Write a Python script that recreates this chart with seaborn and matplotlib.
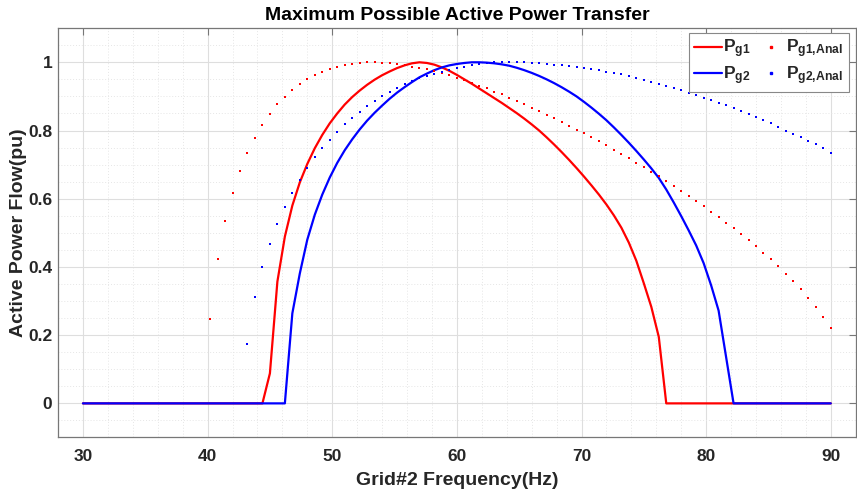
import numpy as np
import pandas as pd
import matplotlib
matplotlib.use("Agg")
import matplotlib.pyplot as plt
import seaborn as sns
from matplotlib.lines import Line2D
from matplotlib.ticker import MultipleLocator, FuncFormatter

# ---------------- data ----------------
# simulated curves sampled every 0.6 Hz from 30 to 90 Hz
freq_sim = np.round(np.arange(101) * 0.6 + 30.0, 1)
pg1_core = [0.088, 0.357, 0.489, 0.580, 0.648, 0.702, 0.748, 0.787, 0.821, 0.850,
            0.876, 0.898, 0.917, 0.934, 0.949, 0.962, 0.973, 0.983, 0.991, 0.997,
            1.000, 0.998, 0.993, 0.985, 0.975, 0.963, 0.950, 0.937, 0.923, 0.909,
            0.895, 0.881, 0.866, 0.851, 0.835, 0.818, 0.800, 0.780, 0.759, 0.737,
            0.714, 0.690, 0.665, 0.639, 0.612, 0.583, 0.551, 0.515, 0.471, 0.418,
            0.352, 0.283, 0.195]
pg1 = [0.0] * 25 + pg1_core + [0.0] * 23
pg2_core = [0.264, 0.381, 0.480, 0.553, 0.612, 0.662, 0.705, 0.742, 0.774, 0.803,
            0.829, 0.852, 0.873, 0.893, 0.911, 0.927, 0.942, 0.956, 0.967, 0.977,
            0.985, 0.991, 0.995, 0.998, 1.000, 1.000, 0.999, 0.997, 0.994, 0.990,
            0.984, 0.977, 0.969, 0.960, 0.950, 0.939, 0.927, 0.914, 0.900, 0.884,
            0.867, 0.849, 0.830, 0.809, 0.787, 0.764, 0.740, 0.715, 0.689, 0.661,
            0.627, 0.589, 0.549, 0.507, 0.463, 0.411, 0.346, 0.272, 0.136]
pg2 = [0.0] * 28 + pg2_core + [0.0] * 14

# analytical results (dots), 0.6 Hz spacing
freq_anal1 = np.round(np.arange(84) * 0.6 + 40.2, 1)
pg1_anal = [0.246, 0.424, 0.535, 0.616, 0.682, 0.735, 0.779, 0.817, 0.849, 0.877,
            0.899, 0.920, 0.936, 0.951, 0.963, 0.973, 0.980, 0.986, 0.992, 0.996,
            0.999, 1.000, 1.000, 0.999, 0.997, 0.994, 0.991, 0.987, 0.983, 0.979,
            0.975, 0.970, 0.963, 0.955, 0.948, 0.940, 0.931, 0.924, 0.914, 0.907,
            0.896, 0.887, 0.878, 0.867, 0.857, 0.845, 0.836, 0.824, 0.813, 0.801,
            0.792, 0.780, 0.769, 0.757, 0.743, 0.731, 0.718, 0.706, 0.694, 0.678,
            0.667, 0.653, 0.638, 0.623, 0.608, 0.593, 0.578, 0.561, 0.546, 0.530,
            0.513, 0.496, 0.479, 0.460, 0.441, 0.422, 0.402, 0.380, 0.358, 0.334,
            0.310, 0.283, 0.253, 0.220]
freq_anal2 = np.round(np.arange(79) * 0.6 + 43.2, 1)
pg2_anal = [0.174, 0.311, 0.399, 0.467, 0.525, 0.575, 0.618, 0.655, 0.689, 0.721,
            0.748, 0.773, 0.797, 0.818, 0.838, 0.855, 0.872, 0.886, 0.900, 0.913,
            0.925, 0.935, 0.944, 0.953, 0.960, 0.967, 0.973, 0.978, 0.983, 0.987,
            0.992, 0.995, 0.998, 1.000, 1.000, 1.000, 1.000, 1.000, 0.999, 0.998,
            0.996, 0.993, 0.991, 0.989, 0.987, 0.984, 0.980, 0.977, 0.973, 0.969,
            0.965, 0.960, 0.953, 0.948, 0.943, 0.937, 0.931, 0.925, 0.918, 0.911,
            0.904, 0.896, 0.889, 0.882, 0.874, 0.865, 0.856, 0.848, 0.839, 0.830,
            0.821, 0.810, 0.800, 0.790, 0.780, 0.769, 0.759, 0.748, 0.735]

labels = [r"$\mathbf{P_{g1}}$", r"$\mathbf{P_{g2}}$",
          r"$\mathbf{P_{g1{,}Anal}}$", r"$\mathbf{P_{g2{,}Anal}}$"]
title = "Maximum Possible Active Power Transfer"
xlabel = "Grid#2 Frequency(Hz)"
ylabel = "Active Power Flow(pu)"

# ---------------- styling ----------------
sns.set_theme(style="whitegrid")
plt.rcParams["font.family"] = ["Liberation Sans", "DejaVu Sans"]
plt.rcParams["font.weight"] = "bold"
plt.rcParams["mathtext.fontset"] = "custom"
plt.rcParams["mathtext.bf"] = "Liberation Sans:bold"
plt.rcParams["mathtext.rm"] = "Liberation Sans"
plt.rcParams["mathtext.it"] = "Liberation Sans:italic"

fig = plt.figure(figsize=(8.57, 4.91), dpi=100, facecolor="white")
ax = fig.add_axes([0.0677, 0.109, 0.9308, 0.8336])
ax.set_facecolor("white")

sim = pd.DataFrame({"f": freq_sim, "p1": pg1, "p2": pg2})
a1 = pd.DataFrame({"f": freq_anal1, "p": pg1_anal})
a2 = pd.DataFrame({"f": freq_anal2, "p": pg2_anal})

sns.lineplot(data=sim, x="f", y="p1", ax=ax, color="#ff0000", lw=1.6, zorder=3)
sns.lineplot(data=sim, x="f", y="p2", ax=ax, color="#0000ff", lw=1.6, zorder=3)
sns.scatterplot(data=a1, x="f", y="p", ax=ax, color="#ff0000", marker="s",
                s=3.5, linewidth=0, zorder=4)
sns.scatterplot(data=a2, x="f", y="p", ax=ax, color="#0000ff", marker="s",
                s=3.5, linewidth=0, zorder=4)

ax.set_xlim(28, 92)
ax.set_ylim(-0.1, 1.1)
ax.xaxis.set_major_locator(MultipleLocator(10))
ax.xaxis.set_minor_locator(MultipleLocator(2))
ax.yaxis.set_major_locator(MultipleLocator(0.2))
ax.yaxis.set_minor_locator(MultipleLocator(0.05))
ax.set_xticks(np.arange(30, 91, 10))
ax.set_yticks([0, 0.2, 0.4, 0.6, 0.8, 1.0])
ax.yaxis.set_major_formatter(FuncFormatter(lambda v, p: f"{v:g}"))

ax.grid(True, which="major", color="#dedede", lw=0.8, ls="-")
ax.grid(True, which="minor", color="#e6e6e6", lw=0.7, ls=(0, (1, 2)))
ax.set_axisbelow(True)

for s in ax.spines.values():
    s.set_visible(True)
    s.set_color("#777777")
    s.set_linewidth(0.9)

ax.tick_params(axis="both", which="major", direction="in", length=5, width=0.8,
               color="#777777", top=True, right=True, labelsize=12.5,
               labelcolor="#262626")
ax.tick_params(axis="x", which="major", pad=8)
ax.tick_params(axis="y", which="major", pad=4)
ax.tick_params(axis="both", which="minor", length=0)
for lab in ax.get_xticklabels() + ax.get_yticklabels():
    lab.set_fontweight("bold")

ax.set_title(title, fontsize=14, fontweight="bold", color="black", pad=6)
ax.set_xlabel(xlabel, fontsize=14, fontweight="bold", color="#262626", labelpad=6)
ax.set_ylabel(ylabel, fontsize=14, fontweight="bold", color="#262626", labelpad=1)

handles = [Line2D([], [], color="#ff0000", lw=1.6),
           Line2D([], [], color="#0000ff", lw=1.6),
           Line2D([], [], color="#ff0000", marker="s", ms=1.6, ls=""),
           Line2D([], [], color="#0000ff", marker="s", ms=1.6, ls="")]
leg = ax.legend(handles, labels, ncol=2, loc="upper right",
                bbox_to_anchor=(0.991, 0.989), borderaxespad=0,
                fontsize=12.5, handlelength=1.6, handletextpad=0.1,
                columnspacing=0.35, labelspacing=0.2, borderpad=0.3,
                fancybox=False, framealpha=1, edgecolor="#888888")
leg.get_frame().set_linewidth(0.8)

fig.savefig("out.png", dpi=100, facecolor="white")
